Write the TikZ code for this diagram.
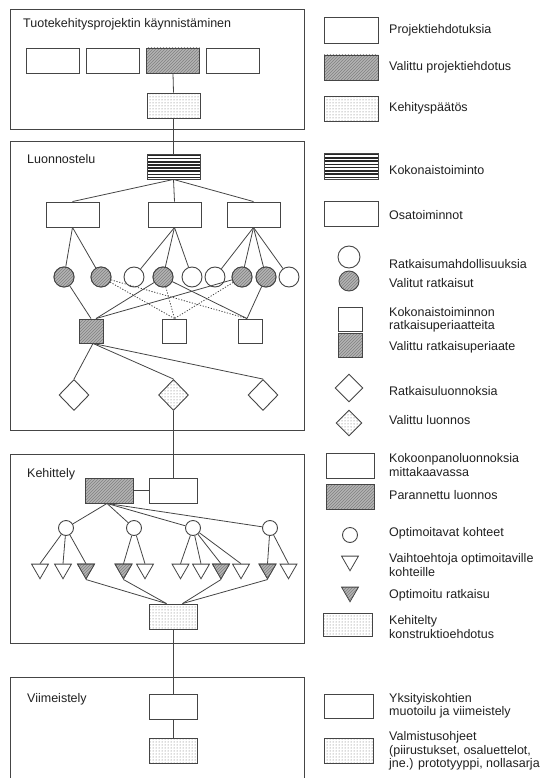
\documentclass[tikz,border=0pt]{standalone}
\usepackage{fontspec}
\setmainfont{Liberation Sans}
\usepackage{tikz}
\usetikzlibrary{positioning,shapes.geometric,patterns,calc}
\definecolor{linegray}{HTML}{454545}
\definecolor{hatchgray}{HTML}{B4B4B4}
\definecolor{textgray}{HTML}{202020}

\tikzset{
  conn/.style={draw=linegray, line width=0.8pt},
  alt/.style={conn, dash pattern=on 1.2pt off 1.6pt},
  frame/.style={draw=linegray, line width=0.9pt},
  hatched/.style={preaction={fill=hatchgray}, pattern=north east lines, pattern color=black!50},
  dotfill/.style={preaction={fill=white}, pattern=dots, pattern color=black!60},
  striped/.style={preaction={fill=white}, path picture={
      \foreach \k in {1,...,8}
        \draw[line width=1.6pt, black!85]
          ($(path picture bounding box.north west)!{(\k-0.5)/8}!(path picture bounding box.south west)$) --
          ($(path picture bounding box.north east)!{(\k-0.5)/8}!(path picture bounding box.south east)$);}},
  box/.style={rectangle, draw=linegray, line width=0.9pt, fill=white, inner sep=0pt, minimum width=53pt, minimum height=25pt},
  smallbox/.style={box, minimum width=48pt},
  solcirc/.style={circle, draw=linegray, line width=0.9pt, fill=white, inner sep=0pt, minimum size=20pt},
  optcirc/.style={solcirc, minimum size=15pt},
  princsq/.style={rectangle, draw=linegray, line width=0.9pt, fill=white, inner sep=0pt, minimum size=24pt},
  sketchdia/.style={diamond, draw=linegray, line width=0.9pt, fill=white, inner sep=0pt, minimum width=30pt, minimum height=31pt},
  alttri/.style={regular polygon, regular polygon sides=3, shape border rotate=180, draw=linegray, line width=0.8pt, fill=white, inner sep=0pt, minimum size=19.5pt},
  title/.style={anchor=base west, inner sep=0pt, text=textgray},
  keytext/.style={anchor=west, align=left, inner sep=0pt, text=textgray}
}

\begin{document}
\begin{tikzpicture}[x=1pt, y=-1pt, font=\fontsize{12.5}{13.5}\selectfont]
  \useasboundingbox (0,0) rectangle (541,778);

  % phase frames
  \draw[frame] (10,9) rectangle (304.5,129);
  \draw[frame] (10,141) rectangle (304.5,430);
  \draw[frame] (10,454) rectangle (304.5,643);
  \draw[frame] (10,778) -- (10,677) -- (304.5,677) -- (304.5,778);

  \node[title] (ph1) at (23,28) {Tuotekehitysprojektin käynnistäminen};
  \node[title] (ph2) at (27,164) {Luonnostelu};
  \node[title] (ph3) at (27,477) {Kehittely};
  \node[title] (ph4) at (27,702) {Viimeistely};

  % Tuotekehitysprojektin kaynnistaminen
  \node[box] (p1) at (52.5,60.5) {};
  \node[box] (p2) at (112.5,60.5) {};
  \node[box, hatched] (p3) at (173,60.5) {};
  \node[box] (p4) at (233,60.5) {};
  \node[box, dotfill] (kp) at (173.5,105.5) {};

  % Luonnostelu
  \node[box, striped] (ko) at (173.5,166.5) {};
  \node[box] (osa1) at (72.5,214.5) {};
  \node[box] (osa2) at (174.5,214.5) {};
  \node[box] (osa3) at (253.5,214.5) {};
  \foreach \x [count=\i] in {64,101,134,163,192,215,242,266,289}
    \node[solcirc] (c\i) at (\x,277) {};
  \foreach \i in {1,2,4,7,8}
    \node[solcirc, hatched] at (c\i) {};
  \node[princsq, hatched] (s1) at (91,331) {};
  \node[princsq] (s2) at (174.5,331) {};
  \node[princsq] (s3) at (250,331) {};
  \node[sketchdia] (d1) at (74,395) {};
  \node[sketchdia, dotfill] (d2) at (173.5,395) {};
  \node[sketchdia] (d3) at (263,395) {};

  % Kehittely
  \node[smallbox, hatched] (hb) at (109,490.5) {};
  \node[smallbox] (wb) at (173.5,490.5) {};
  \foreach \x [count=\i] in {66,134,193,270}
    \node[optcirc] (oc\i) at (\x,528) {};
  \foreach \x [count=\i] in {40,63,86,123.5,145,180.5,201,221,241,267.5,288.5}
    \node[alttri] (t\i) at (\x,569) {};
  \foreach \i in {3,4,8,10}
    \node[alttri, hatched] at (t\i) {};
  \node[smallbox, dotfill] (kk) at (173.5,616.5) {};

  % Viimeistely
  \node[smallbox] (yk) at (173.5,707) {};
  \node[smallbox, dotfill] (vo) at (173.5,750.5) {};

  % connectors
  \draw[conn] (p3.south) -- (kp.north);
  \draw[conn] (kp.south) -- (ko.north);
  \foreach \o in {osa1,osa2,osa3}
    \draw[conn] (ko.south) -- (\o.north);
  \foreach \i in {1,2}
    \draw[conn] (osa1.south) -- (c\i);
  \foreach \i in {3,4,5}
    \draw[conn] (osa2.south) -- (c\i);
  \foreach \i in {6,7,8,9}
    \draw[conn] (osa3.south) -- (c\i);
  \draw[conn] (c1) -- (s1.north);
  \foreach \i in {4,7}
    \draw[conn] (c\i) -- ([xshift=5pt]s1.north);
  \foreach \i in {2,4,7}
    \draw[alt] (c\i) -- (s2.north);
  \draw[alt] (c2) -- ([xshift=-3pt]s3.north);
  \foreach \i in {4,8}
    \draw[conn] (c\i) -- ([xshift=-3pt]s3.north);
  \foreach \d in {d1,d2,d3}
    \draw[conn] ([xshift=2pt]s1.south) -- (\d.north);
  \draw[conn] (d2.south) -- (wb.north);
  \draw[conn] (wb.west) -- (hb.east);
  \foreach \i in {1,...,4}
    \draw[conn] ([xshift=-2pt]hb.south) -- (oc\i);
  \foreach \i in {1,2,3}
    \draw[conn] (oc1) -- (t\i.north);
  \foreach \i in {4,5}
    \draw[conn] (oc2) -- (t\i.north);
  \foreach \i in {6,...,9}
    \draw[conn] (oc3) -- (t\i.north);
  \foreach \i in {10,11}
    \draw[conn] (oc4) -- (t\i.north);
  \foreach \i in {3,4}
    \draw[conn] (t\i.south) -- ([xshift=-7pt]kk.north);
  \foreach \i in {8,10}
    \draw[conn] (t\i.south) -- ([xshift=9pt]kk.north);
  \draw[conn] (kk.south) -- (yk.north);
  \draw[conn] (yk.south) -- (vo.north);

  % legend
  \node[box, minimum width=54pt, minimum height=26pt] (key1) at (351,30) {};
  \node[box, hatched, minimum width=54pt] (key2) at (351,67.5) {};
  \node[box, dotfill, minimum width=54pt] (key3) at (351,108.5) {};
  \node[box, striped, minimum width=54pt, minimum height=26pt] (key4) at (351,166) {};
  \node[box, minimum width=54pt] (key5) at (351,213.5) {};
  \node[solcirc, minimum size=22pt] (key6) at (349,257) {};
  \node[solcirc, hatched] (key7) at (349,281) {};
  \node[princsq] (key8) at (350.5,319) {};
  \node[princsq, hatched] (key9) at (350.5,345) {};
  \node[sketchdia, minimum width=28pt, minimum height=28pt] (key10) at (349,388) {};
  \node[sketchdia, dotfill, minimum width=26pt, minimum height=26pt] (key11) at (349,423) {};
  \node[smallbox] (key12) at (350,465.5) {};
  \node[smallbox, hatched] (key13) at (350,496.5) {};
  \node[optcirc] (key14) at (350,535) {};
  \node[alttri] (key15) at (350,561) {};
  \node[alttri, hatched] (key16) at (350,592) {};
  \node[smallbox, dotfill, minimum width=49pt, minimum height=23pt] (key17) at (347.5,624.5) {};
  \node[smallbox, minimum width=49pt, minimum height=24pt] (key18) at (348.5,706) {};
  \node[smallbox, dotfill, minimum width=49pt] (key19) at (348.5,750.5) {};

  \node[keytext] (txt1) at (389,30) {Projektiehdotuksia};
  \node[keytext] (txt2) at (389,67) {Valittu projektiehdotus};
  \node[keytext] (txt3) at (389,108) {Kehityspäätös};
  \node[keytext] (txt4) at (389,170) {Kokonaistoiminto};
  \node[keytext] (txt5) at (389,215) {Osatoiminnot};
  \node[keytext] (txt6) at (389,264) {Ratkaisumahdollisuuksia};
  \node[keytext] (txt7) at (389,283) {Valitut ratkaisut};
  \node[keytext] (txt8) at (389,320) {Kokonaistoiminnon\\ratkaisuperiaatteita};
  \node[keytext] (txt9) at (389,347) {Valittu ratkaisuperiaate};
  \node[keytext] (txt10) at (389,391) {Ratkaisuluonnoksia};
  \node[keytext] (txt11) at (389,420) {Valittu luonnos};
  \node[keytext] (txt12) at (389,465) {Kokoonpanoluonnoksia\\mittakaavassa};
  \node[keytext] (txt13) at (389,495) {Parannettu luonnos};
  \node[keytext] (txt14) at (389,533) {Optimoitavat kohteet};
  \node[keytext] (txt15) at (389,565) {Vaihtoehtoja optimoitaville\\kohteille};
  \node[keytext] (txt16) at (389,595) {Optimoitu ratkaisu};
  \node[keytext] (txt17) at (389,627) {Kehitelty\\konstruktioehdotus};
  \node[keytext] (txt18) at (389,706) {Yksityiskohtien\\muotoilu ja viimeistely};
  \node[keytext] (txt19) at (389,751) {Valmistusohjeet\\(piirustukset, osaluettelot,\\jne.) prototyyppi, nollasarja};
\end{tikzpicture}
\end{document}
